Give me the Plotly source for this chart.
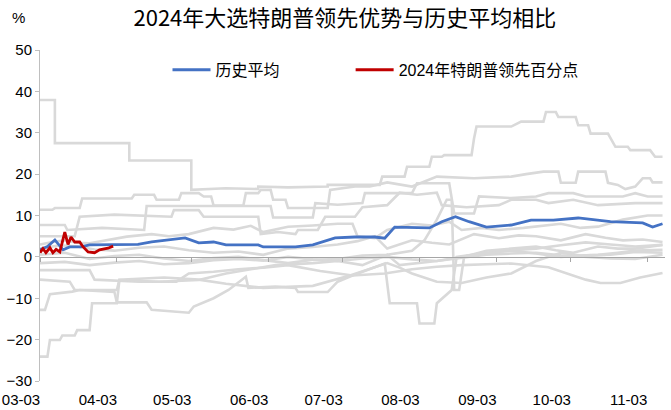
import pandas as pd
import plotly.graph_objects as go

START = pd.Timestamp("2024-03-03")
END = pd.Timestamp("2024-11-10")

# ---- Data (day offsets from 03-03, values in percentage points) ----
# Historical elections (grey)
g1_d = [0, 6, 6, 36, 36, 61, 61, 75, 88, 88, 100, 116, 116, 126, 137, 138, 147, 148, 157, 158, 162, 163, 174, 175, 176, 190, 194, 203, 204, 208, 209, 216, 217, 221, 222, 229, 231, 232, 237, 238, 246, 248, 251]
g1_v = [37.9, 37.9, 27.5, 27.5, 23.3, 23.3, 16.2, 16.6, 16.4, 17.0, 16.8, 17.0, 17.4, 17.4, 17.4, 19.4, 19.4, 21.8, 21.8, 24.2, 24.2, 24.6, 24.6, 28.6, 31.5, 31.5, 32.7, 32.7, 35.0, 35.0, 33.8, 33.8, 31.8, 31.8, 29.8, 29.8, 27.4, 26.6, 26.6, 25.8, 25.8, 24.2, 24.2]

g2_d = [0, 5, 6, 16, 17, 37, 38, 46, 47, 56, 57, 64, 66, 69, 70, 82, 83, 88, 89, 93, 94, 99, 100, 116, 117, 127, 133, 140, 150, 160, 175, 190, 196, 203, 209, 210, 216, 217, 228, 229, 233, 236, 240, 243, 246, 247, 251]
g2_v = [11.4, 11.4, 11.8, 11.8, 14.1, 14.1, 15.0, 15.0, 13.8, 13.8, 15.4, 15.4, 14.6, 14.6, 12.4, 12.4, 15.4, 15.4, 16.2, 16.2, 13.8, 13.8, 11.8, 11.8, 16.2, 17.0, 17.0, 18.0, 17.0, 19.4, 19.0, 19.4, 20.0, 20.6, 20.6, 17.9, 17.9, 20.6, 20.6, 17.9, 17.4, 16.4, 17.0, 19.0, 19.0, 18.0, 18.0]

g3_d = [0, 10, 11, 25, 42, 43, 93, 94, 110, 111, 120, 130, 131, 150, 152, 165, 167, 175, 177, 190, 200, 205, 215, 220, 235, 240, 245, 251]
g3_v = [7.7, 7.7, 6.5, 7.0, 6.5, 12.3, 12.3, 9.5, 9.5, 13.0, 12.6, 13.0, 15.4, 15.4, 17.8, 17.8, 10.5, 10.5, 14.6, 14.2, 14.6, 15.4, 15.4, 14.6, 14.6, 15.4, 14.6, 14.6]

g4_d = [0, 14, 16, 30, 53, 54, 64, 66, 88, 89, 96, 103, 104, 112, 115, 127, 130, 140, 145, 152, 160, 162, 172, 185, 190, 200, 205, 215, 225, 240, 251]
g4_v = [5.0, 5.0, 9.7, 10.2, 9.7, 11.3, 11.3, 9.7, 9.7, 5.5, 6.0, 5.5, 6.5, 6.5, 9.7, 9.7, 12.0, 12.5, 15.5, 15.0, 15.5, 12.5, 12.0, 12.5, 13.8, 13.8, 13.0, 13.8, 12.5, 13.0, 13.0]

g5_d = [0, 5, 10, 15, 20, 28, 35, 45, 52, 60, 70, 78, 85, 90, 100, 110, 120, 126, 128, 135, 140, 150, 158, 165, 170, 178, 185, 195, 203, 210, 218, 225, 235, 245, 251]
g5_v = [3.0, 3.6, 4.0, 3.4, 3.3, 4.2, 4.9, 5.5, 5.0, 5.5, 7.0, 6.6, 7.5, 6.0, 7.3, 7.6, 8.0, 8.0, 5.0, 4.5, 6.5, 8.0, 7.6, 8.5, 6.5, 7.0, 6.5, 7.0, 7.6, 8.0, 7.0, 7.3, 9.0, 10.0, 10.0]

g6_d = [0, 8, 15, 22, 30, 40, 50, 60, 70, 80, 90, 100, 110, 120, 128, 135, 140, 150, 158, 165, 175, 185, 193, 200, 210, 220, 228, 235, 243, 251]
g6_v = [2.0, 2.8, 2.5, 1.8, 1.5, 2.2, 2.5, 1.6, 1.0, 1.3, 0.5, 2.0, 2.4, 3.0, 3.8, 5.0, 2.0, 4.0, 3.4, 3.0, 5.5, 4.5, 5.2, 5.0, 4.0, 5.5, 4.6, 4.0, 4.2, 3.6]

g7_d = [0, 10, 20, 30, 40, 50, 60, 70, 80, 90, 100, 110, 120, 130, 140, 150, 155, 160, 164, 166, 167, 169, 171, 180, 190, 200, 208, 215, 225, 233, 240, 251]
g7_v = [0.5, 1.0, -0.5, 0.2, 0.5, -0.4, -1.0, -0.3, 0.0, -0.8, -1.5, -0.7, -0.5, 0.3, 0.5, 1.5, 4.0, 9.0, 13.8, 13.8, -8.0, -8.0, 0.0, 1.5, 2.0, 2.5, 1.6, 1.0, 2.5, 2.0, 2.0, 2.9]

g8_d = [0, 10, 20, 30, 40, 50, 60, 70, 80, 90, 100, 110, 120, 130, 140, 150, 160, 170, 180, 190, 200, 210, 220, 230, 240, 251]
g8_v = [-1.5, -1.2, -2.0, -1.4, -1.0, -1.8, -1.5, -0.8, -0.5, -0.9, 0.0, -0.6, -1.0, -0.4, 0.0, -0.6, -1.0, -0.2, 0.5, 0.8, 1.0, 0.4, 0.0, -0.4, -0.5, 0.5]

g9_d = [0, 20, 22, 30, 40, 55, 60, 70, 80, 90, 100, 113, 126, 139, 150, 160, 170, 180, 190, 205, 215, 220, 226, 234, 242, 251]
g9_v = [-3.2, -3.2, -5.5, -5.8, -6.0, -6.0, -4.0, -3.6, -3.0, -2.6, -2.0, -3.4, -4.5, -4.0, -3.0, -2.4, -2.0, -1.8, -1.6, -2.5, -4.5, -5.5, -6.3, -6.3, -5.0, -3.9]

g10_d = [0, 12, 14, 31, 32, 50, 64, 75, 90, 100, 110, 125, 140, 145, 150, 160, 170, 180, 190, 200, 210, 218, 225, 233, 240, 251]
g10_v = [-5.5, -6.0, -8.0, -8.0, -5.5, -5.0, -5.5, -6.5, -7.5, -7.2, -7.0, -4.5, -1.5, -2.6, -4.0, -6.0, -6.3, -5.0, -4.0, -1.0, 1.0, 0.3, 0.5, 1.0, 1.5, 1.7]

g11_d = [0, 2, 4, 13, 16, 30, 31, 43, 45, 60, 62, 70, 76, 83, 84, 95, 103, 104, 116, 120, 126, 139, 141, 152, 153, 159, 160, 166, 168, 180, 190, 200, 210, 220, 230, 240, 251]
g11_v = [-12.8, -12.8, -9.0, -8.4, -8.0, -8.5, -11.0, -11.0, -12.8, -13.5, -12.0, -10.0, -8.0, -4.8, -7.5, -7.2, -7.5, -8.5, -8.5, -6.0, -4.5, -1.6, -11.2, -11.2, -16.1, -16.1, -11.2, -8.0, 0.0, 1.0, 1.6, 2.0, 2.8, 3.5, 3.0, 2.5, 2.9]

g12_d = [0, 3, 4, 8, 9, 14, 15, 20, 21, 31, 32, 48, 64, 75, 85, 95, 110, 120, 130, 140, 145, 160, 175, 190, 200, 210, 220, 230, 240, 251]
g12_v = [-24.1, -24.1, -20.1, -20.1, -19.0, -19.0, -17.7, -17.7, -11.2, -11.2, -5.6, -6.0, -5.6, -4.0, -3.0, -2.0, -1.5, -1.0, -2.0, 0.5, -2.0, -1.0, 0.5, 1.5, 0.8, 0.0, 0.4, 0.5, 1.2, 1.0]

grey_lines = [(g1_d, g1_v), (g2_d, g2_v), (g3_d, g3_v), (g4_d, g4_v), (g5_d, g5_v), (g6_d, g6_v),
              (g7_d, g7_v), (g8_d, g8_v), (g9_d, g9_v), (g10_d, g10_v), (g11_d, g11_v), (g12_d, g12_v)]

# Historical average (blue)
avg_d = [0, 3, 6, 8, 9.3, 12, 16.5, 20, 26, 39.5, 45, 58.5, 64, 70, 75, 88, 90, 103, 110, 114, 119, 127, 135, 139, 143, 157, 162, 167.5, 173, 180, 190, 198, 207, 217, 230, 243, 247, 251]
avg_v = [1.7, 2.5, 4.1, 2.5, 1.7, 2.4, 2.4, 2.9, 2.9, 3.0, 3.6, 4.6, 3.4, 3.6, 2.9, 2.9, 2.4, 2.4, 2.9, 3.6, 4.6, 4.8, 4.8, 4.5, 7.2, 7.0, 8.5, 9.7, 8.5, 7.2, 7.7, 8.9, 8.9, 9.4, 8.5, 8.2, 7.2, 8.0]

# 2024 Trump lead (red)
t24_d = [0, 1.2, 2.4, 4, 5.2, 6.5, 8, 10, 11.3, 12.5, 14, 16, 17.4, 19.4, 22, 24, 27.4, 29.5]
t24_v = [1.0, 2.0, 1.0, 2.2, 1.0, 1.8, 1.2, 6.0, 3.0, 4.8, 3.6, 3.6, 2.4, 1.2, 1.0, 1.7, 2.1, 2.6]

y_ticks = [-30, -20, -10, 0, 10, 20, 30, 40, 50]


def to_dates(days):
    return [START + pd.Timedelta(days=float(d)) for d in days]


fig = go.Figure()
for d, v in grey_lines:
    fig.add_trace(go.Scatter(x=to_dates(d), y=v, mode="lines",
                             line=dict(color="#d9d9d9", width=2.6),
                             showlegend=False, hoverinfo="skip"))

fig.add_trace(go.Scatter(x=to_dates(avg_d), y=avg_v, mode="lines", name="历史平均",
                         line=dict(color="#4472c4", width=2.8), legend="legend"))
fig.add_trace(go.Scatter(x=to_dates(t24_d), y=t24_v, mode="lines", name="2024年特朗普领先百分点",
                         line=dict(color="#c00000", width=2.8), legend="legend2"))
# helper trace for the label axis
fig.add_trace(go.Scatter(x=[START], y=[None], xaxis="x2", mode="lines",
                         showlegend=False, hoverinfo="skip"))

font_fam = "Liberation Sans, Arial, Noto Sans CJK SC, sans-serif"
cjk_fam = "Noto Sans CJK SC, Liberation Sans, sans-serif"
fig.update_layout(
    width=671, height=410,
    margin=dict(l=40, r=6, t=50, b=29, autoexpand=False),
    paper_bgcolor="white", plot_bgcolor="white",
    font=dict(family=font_fam, size=15, color="#000000"),
    title=dict(text="2024年大选特朗普领先优势与历史平均相比", x=0.514, xref="container",
               xanchor="center", y=0.955, yref="container", yanchor="middle",
               font=dict(size=22, family=cjk_fam, color="#000")),
    xaxis=dict(type="date", range=[START, END], anchor="free", position=0.375,
               showline=True, linecolor="#a6a6a6", linewidth=1,
               ticks="outside", ticklen=4, tickcolor="#a6a6a6",
               tick0="2024-03-03", dtick="M1", showticklabels=False,
               showgrid=False, zeroline=False, automargin=False),
    xaxis2=dict(type="date", range=[START, END], matches="x", overlaying="x", anchor="y",
                side="bottom", showline=False, ticks="", showgrid=False, zeroline=False,
                tick0="2024-03-03", dtick="M1", tickformat="%m-%d",
                ticklabelshift=-19, ticklabelstandoff=8, automargin=False,
                tickfont=dict(size=15, family=font_fam, color="#000")),
    yaxis=dict(range=[-30, 50], tickvals=y_ticks, showline=True, linecolor="#bfbfbf",
               linewidth=1, ticks="outside", ticklen=4, tickcolor="#bfbfbf",
               showgrid=False, zeroline=False, automargin=False,
               tickfont=dict(size=15, family=font_fam, color="#000")),
    legend=dict(x=0.204, y=0.94, xanchor="left", yanchor="middle", orientation="h",
                itemwidth=38, bgcolor="rgba(0,0,0,0)", font=dict(size=16, family=cjk_fam)),
    legend2=dict(x=0.497, y=0.94, xanchor="left", yanchor="middle", orientation="h",
                 itemwidth=38, bgcolor="rgba(0,0,0,0)",
                 font=dict(size=16, family="Liberation Sans, Noto Sans CJK SC, sans-serif")),
    annotations=[dict(text="%", xref="paper", yref="paper", x=(18 - 40) / 625,
                      y=1 + (50 - 18) / 331, xanchor="center", yanchor="middle", showarrow=False,
                      font=dict(size=15, family=font_fam, color="#000"))],
)

fig.write_html("out.html")
